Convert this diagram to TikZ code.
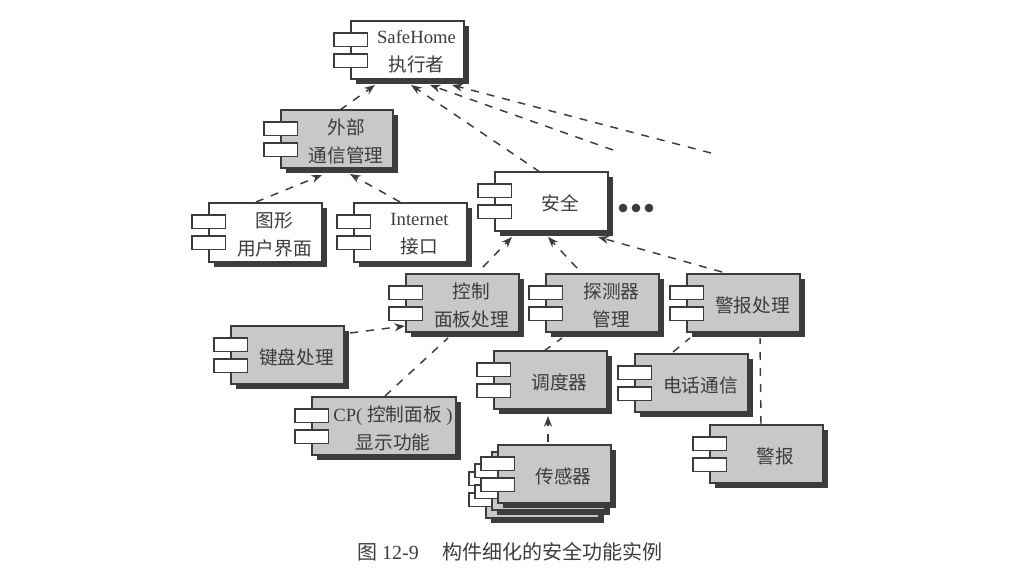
\documentclass[tikz,border=0pt]{standalone}
\usepackage{fontspec}
\setmainfont{Liberation Serif}
\newfontfamily\cjkf{Noto Sans CJK SC}
\usetikzlibrary{arrows.meta}
\definecolor{ink}{HTML}{3C3C3C}
\definecolor{shade}{HTML}{C8C8C8}
\newcommand{\comp}[7]{%
  \fill[ink] (#2+5,#3+5) rectangle (#4+5,#5+5);
  \node[box,fill=#6,anchor=north west,minimum width={(#4-#2)*0.75pt},minimum height={(#5-#3)*0.75pt}] (#1) at (#2,#3) {};
  \node[port,anchor=north west] (#1-p1) at ([shift={(-17,12)}]#1.north west) {};
  \node[port,anchor=north west] (#1-p2) at ([shift={(-17,33)}]#1.north west) {};
  \node[boxtext] (#1-t) at ([shift={(9,2)}]#1.center) {#7};
}
\tikzset{
  box/.style={draw=ink,line width=0.9pt,rectangle,inner sep=0pt,outer sep=0pt},
  port/.style={draw=ink,fill=white,line width=0.9pt,rectangle,inner sep=0pt,outer sep=0pt,minimum width=25pt,minimum height=10pt},
  boxtext/.style={align=center,text=ink,font=\fontsize{14pt}{21pt}\selectfont,inner sep=0pt},
  dep/.style={draw=ink,line width=1.1pt,dash pattern=on 6pt off 6pt},
  deparrow/.style={dep,-{Stealth[length=8pt,width=6pt,fill=ink]}},
  dot/.style={circle,fill=ink,inner sep=0pt,minimum size=6.5pt},
  caption/.style={text=ink,font=\fontsize{15pt}{17pt}\selectfont,inner sep=0pt}
}
\begin{document}
\begin{tikzpicture}[x=0.75pt,y=-0.75pt]
\useasboundingbox (0,0) rectangle (1028,578);
\comp{safehome}{351}{21}{464}{79}{white}{SafeHome\\{\cjkf 执行者}}
\comp{waibu}{281}{110}{393}{168}{shade}{{\cjkf 外部}\\{\cjkf 通信管理}}
\comp{tuxing}{209}{203}{322}{262}{white}{{\cjkf 图形}\\{\cjkf 用户界面}}
\comp{internet}{354}{203}{467}{262}{white}{Internet\\{\cjkf 接口}}
\comp{anquan}{495}{172}{608}{231}{white}{{\cjkf 安全}}
\comp{kongzhi}{406}{274}{519}{332}{shade}{{\cjkf 控制}\\{\cjkf 面板处理}}
\comp{tance}{546}{274}{659}{332}{shade}{{\cjkf 探测器}\\{\cjkf 管理}}
\comp{jingbaochuli}{687}{274}{800}{332}{shade}{{\cjkf 警报处理}}
\comp{jianpan}{231}{326}{344}{384}{shade}{{\cjkf 键盘处理}}
\comp{cp}{312}{397}{456}{455}{shade}{CP( {\cjkf 控制面板} )\\{\cjkf 显示功能}}
\comp{diaodu}{494}{351}{607}{409}{shade}{{\cjkf 调度器}}
\comp{dianhua}{635}{354}{748}{412}{shade}{{\cjkf 电话通信}}
\comp{jingbao}{710}{425}{823}{483}{shade}{{\cjkf 警报}}
\comp{sensorc}{486}{460}{599}{518}{shade}{}
\comp{sensorb}{492}{452}{605}{510}{shade}{}
\comp{sensor}{498}{445}{611}{503}{shade}{{\cjkf 传感器}}
\node[dot] (d1) at (623,208) {};
\node[dot] (d2) at (636,208) {};
\node[dot] (d3) at (649,208) {};
\coordinate (freea) at (613,150);
\coordinate (freeb) at (711,153);
\draw[deparrow] ([shift={(59,0)}]waibu.north west) -- ([shift={(24,6)}]safehome.south west);
\draw[deparrow] ([shift={(45,0)}]anquan.north west) -- ([shift={(60,6)}]safehome.south west);
\draw[deparrow] (freea) -- ([shift={(79,6)}]safehome.south west);
\draw[deparrow] (freeb) -- ([shift={(101,6)}]safehome.south west);
\draw[deparrow] ([shift={(47,-1)}]tuxing.north west) -- ([shift={(41,7)}]waibu.south west);
\draw[deparrow] ([shift={(46,-1)}]internet.north west) -- ([shift={(69,6)}]waibu.south west);
\draw[deparrow] ([shift={(77,-7)}]kongzhi.north west) -- ([shift={(17,6)}]anquan.south west);
\draw[deparrow] ([shift={(31,-6)}]tance.north west) -- ([shift={(53,6)}]anquan.south west);
\draw[deparrow] ([shift={(35,-2)}]jingbaochuli.north west) -- ([shift={(103,6)}]anquan.south west);
\draw[deparrow] ([shift={(6,7)}]jianpan.north east) -- ([shift={(-1,52)}]kongzhi.north west);
\draw[dep] ([shift={(73,-1)}]cp.north west) -- ([shift={(42,6)}]kongzhi.south west);
\draw[dep] ([shift={(50,0)}]diaodu.north west) -- ([shift={(16,6)}]tance.south west);
\draw[dep] ([shift={(38,-2)}]dianhua.north west) -- ([shift={(3,6)}]jingbaochuli.south west);
\draw[dep] ([shift={(51,-1)}]jingbao.north west) -- ([shift={(73,6)}]jingbaochuli.south west);
\draw[deparrow] ([shift={(50,-3)}]sensor.north west) -- ([shift={(54,7)}]diaodu.south west);
\node[caption] (cap) at (510,552) {{\cjkf 图} 12-9\hspace{18pt}{\cjkf 构件细化的安全功能实例}};
\end{tikzpicture}
\end{document}
